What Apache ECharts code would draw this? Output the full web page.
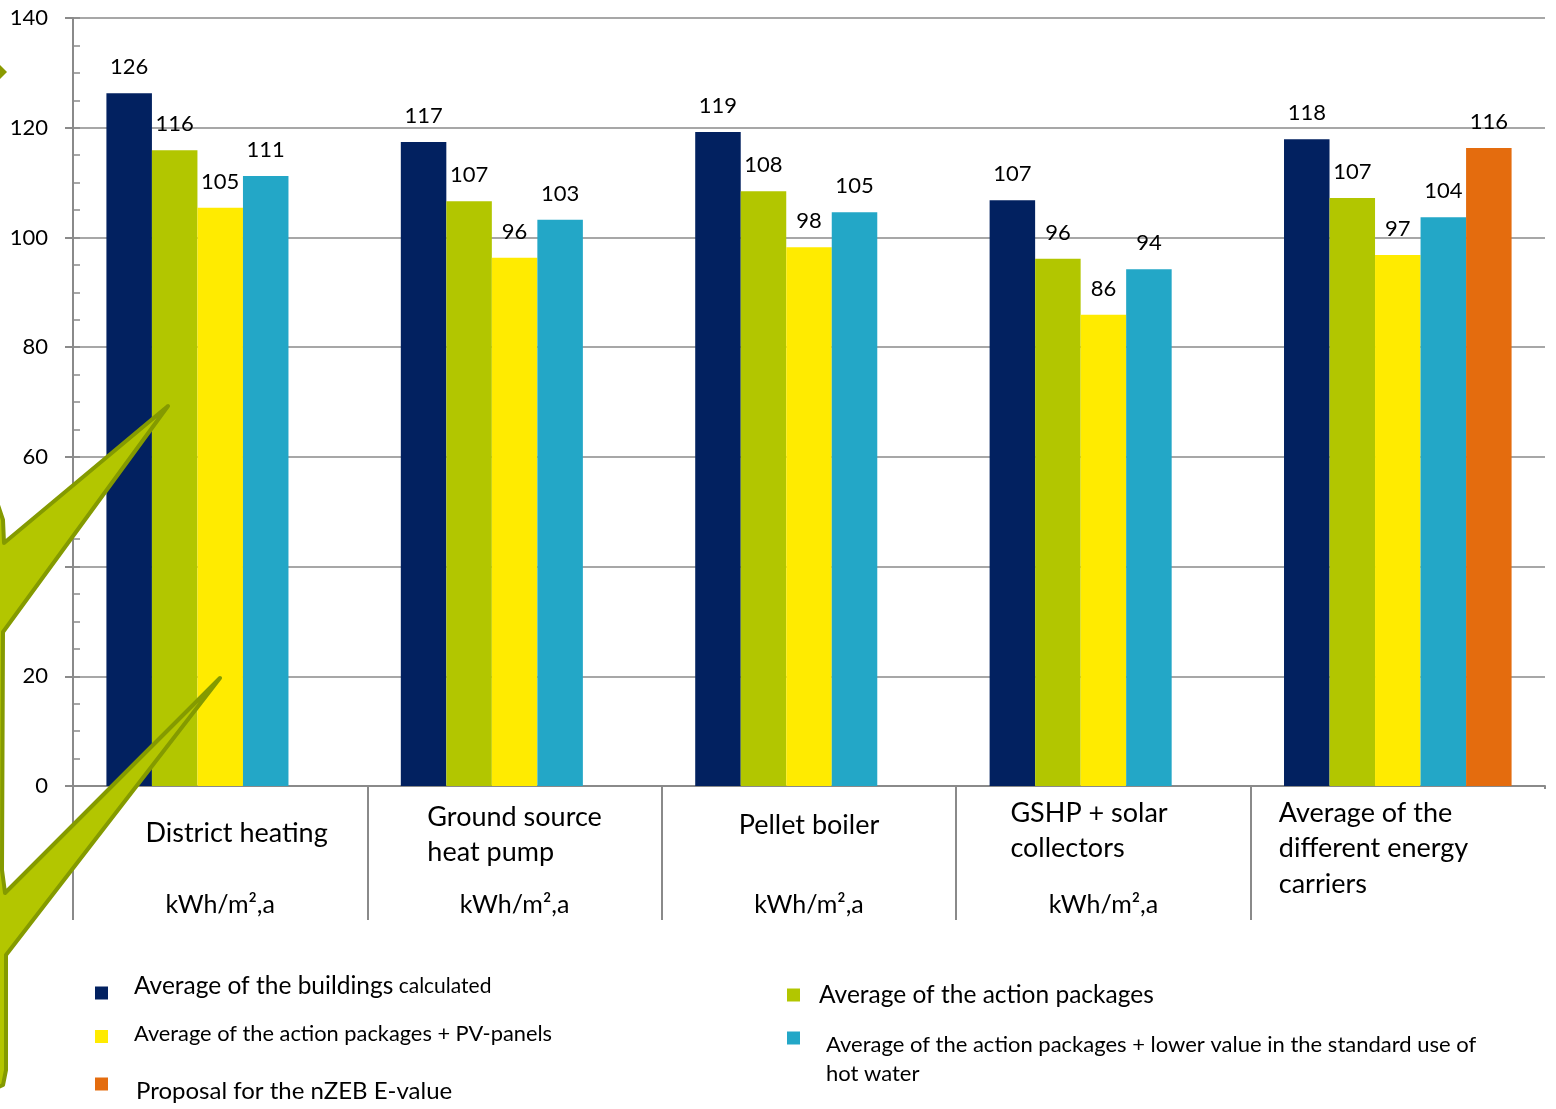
<!DOCTYPE html>
<html>
<head>
<meta charset="utf-8">
<script src="https://cdn.jsdelivr.net/npm/echarts@6/dist/echarts.min.js"></script>
<style>
html,body{margin:0;padding:0;background:#fff;}
#chart{width:1556px;height:1109px;}
</style>
</head>
<body>
<div id="chart"></div>
<script>
// ---- data ----
const categories = ['District heating', 'Ground source\nheat pump', 'Pellet boiler', 'GSHP + solar\ncollectors', 'Average of the\ndifferent energy\ncarriers'];
const unitLabels = ['kWh/m²,a', 'kWh/m²,a', 'kWh/m²,a', 'kWh/m²,a', ''];
const seriesNames = [
  'Average of the buildings calculated',
  'Average of the action packages',
  'Average of the action packages + PV-panels',
  'Average of the action packages + lower value in the standard use of hot water',
  'Proposal for the nZEB E-value'
];
const buildings      = [126.3, 117.4, 119.2, 106.8, 117.9];
const actionPackages = [115.9, 106.6, 108.4, 96.1, 107.2];
const actionPV       = [105.4, 96.3, 98.2, 85.9, 96.8];
const actionHotWater = [111.2, 103.2, 104.6, 94.2, 103.7];
const nzebProposal   = [null, null, null, null, 116.3];
const yMin = 0, yMax = 140, yStep = 20, yMinorStep = 5;

// ---- styles ----
const FONT = 'Lato';
const colors = ['#022160', '#B2C600', '#FFEB00', '#23A7C7', '#E46C0E'];
const gray = '#8a8a8a';
const values = [buildings, actionPackages, actionPV, actionHotWater, nzebProposal];

const rich = {
  c0_0: {lineHeight: 66, width: 215, align: 'right'},
  u0:   {lineHeight: 78, fontSize: 25, align: 'center'},
  c1_0: {lineHeight: 35, align: 'left'},
  c1_1: {lineHeight: 35, align: 'left'},
  u1:   {lineHeight: 70, fontSize: 25, align: 'center'},
  c2_0: {lineHeight: 50, align: 'center'},
  u2:   {lineHeight: 110, fontSize: 25, align: 'center'},
  c3_0: {lineHeight: 26, width: 186, align: 'left'},
  c3_1: {lineHeight: 44, align: 'left'},
  u3:   {lineHeight: 70, fontSize: 25, align: 'center'},
  c4_0: {lineHeight: 26, width: 238, align: 'left'},
  c4_1: {lineHeight: 44, align: 'left'},
  c4_2: {lineHeight: 28, align: 'left'}
};
Object.keys(rich).forEach(k => {
  rich[k].fontFamily = FONT;
  rich[k].color = '#000';
  if (!rich[k].fontSize) rich[k].fontSize = 27;
});

const series = values.map((arr, i) => ({
  name: seriesNames[i],
  type: 'bar',
  data: arr.map(v => v === null ? '-' : v),
  barGap: '0%',
  barCategoryGap: '22.7%',
  itemStyle: {color: colors[i]},
  label: {
    show: true, position: 'top', distance: 15,
    fontFamily: FONT, fontSize: 22, color: '#000',
    formatter: p => Math.round(p.value)
  }
}));

function tok(size, lh) {
  return {fontFamily: FONT, fontSize: size, lineHeight: lh, color: '#000'};
}

// legend text uses rich tokens so that padding shifts the text relative to the icon
function legendFor(i, left, top, padding, formatter, richStyles) {
  return {
    data: [seriesNames[i]], left: left, top: top, padding: 0,
    icon: 'rect', itemWidth: 13, itemHeight: 13, selectedMode: false,
    formatter: formatter,
    textStyle: {fontFamily: FONT, color: '#000', padding: padding, rich: richStyles}
  };
}

const option = {
  backgroundColor: '#fff',
  animation: false,
  grid: {left: 73, right: 11, top: 18, bottom: 323},
  xAxis: {
    type: 'category',
    data: categories,
    axisLine: {show: true, lineStyle: {color: gray, width: 2}},
    axisTick: {show: true, interval: 0, length: 134, lineStyle: {color: gray, width: 2}},
    axisLabel: {
      interval: 0, margin: 14,
      formatter: (v, i) => {
        let s = v.split('\n').map((l, j) => '{c' + i + '_' + j + '|' + l + '}').join('\n');
        if (unitLabels[i]) s += '\n{u' + i + '|' + unitLabels[i] + '}';
        return s;
      },
      rich: rich
    }
  },
  yAxis: [
    {
      type: 'value', min: yMin, max: yMax, interval: yStep, position: 'left',
      axisLine: {show: true, lineStyle: {color: gray, width: 2}},
      axisTick: {show: true, length: 8, lineStyle: {color: gray, width: 2}},
      splitLine: {show: true, lineStyle: {color: gray, width: 1.5}},
      axisLabel: {fontFamily: FONT, fontSize: 22, color: '#000', margin: 25}
    },
    {
      type: 'value', min: yMin, max: yMax, interval: yMinorStep, position: 'left',
      axisLine: {show: false},
      axisTick: {show: true, inside: true, length: 7, lineStyle: {color: gray, width: 1.5}},
      splitLine: {show: false},
      axisLabel: {show: false}
    }
  ],
  legend: [
    legendFor(0, 95, 974, [0, 0, 13, 21],
      () => '{a|Average of the buildings}{b| calculated}',
      {a: tok(24.5, 26), b: tok(21, 26)}),
    legendFor(2, 95, 1023, [0, 0, 5, 21],
      name => '{a|' + name + '}', {a: tok(21.8, 26)}),
    legendFor(4, 95, 1077.5, [14, 0, 0, 23],
      name => '{a|' + name + '}', {a: tok(24, 26)}),
    legendFor(1, 787, 982.5, [0, 0, 0, 14],
      name => '{a|' + name + '}', {a: tok(24.5, 26)}),
    legendFor(3, 787, 1031.5, [42, 0, 0, 21],
      () => '{a|Average of the action packages + lower value in the standard use of}\n{a|hot water}',
      {a: tok(22, 29)})
  ],
  series: series,
  graphic: [
    {type: 'rect', left: 1541, top: 789, z: 50, shape: {width: 8, height: 134}, style: {fill: '#fff'}},
    {type: 'polygon', z: 100,
      shape: {points: [[-30, 490], [-2, 505], [3, 520], [4, 543], [168, 406], [3, 632], [2, 870], [4, 885], [5, 893], [220, 678], [6, 955], [6, 1070], [3, 1085], [-30, 1100]]},
      style: {fill: '#B3C600', stroke: '#849A00', lineWidth: 4, lineJoin: 'round'}},
    {type: 'polygon', z: 100,
      shape: {points: [[-8, 57], [7, 72], [-8, 87]]},
      style: {fill: '#8A9A00'}}
  ]
};

const chart = echarts.init(document.getElementById('chart'), null, {renderer: 'canvas'});
chart.setOption(option);
</script>
</body>
</html>
